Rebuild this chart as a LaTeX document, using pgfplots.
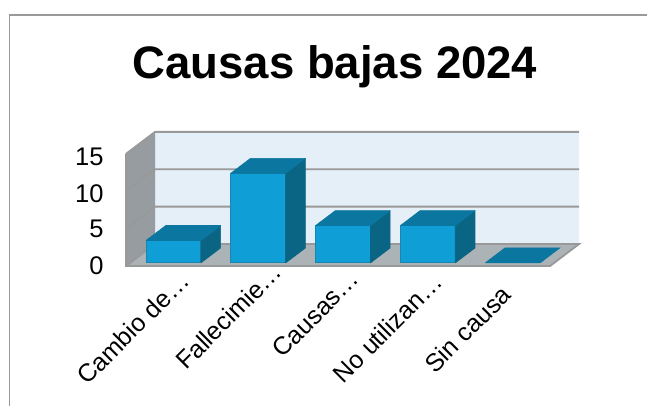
\documentclass[border=0pt]{standalone}
\usepackage{fontspec}
\setmainfont{Liberation Sans}
\usepackage{pgfplots}
\pgfplotsset{compat=1.18}

\definecolor{barfront}{HTML}{0F9ED5}
\definecolor{barline}{HTML}{1A86B0}
\definecolor{bartop}{HTML}{0B76A0}
\definecolor{barside}{HTML}{0A6585}
\definecolor{wallback}{HTML}{E5EFF8}
\definecolor{wallside}{HTML}{969CA0}
\definecolor{floorc}{HTML}{ABB3B6}
\definecolor{gridc}{HTML}{999999}

% x0, x1, value
\newcommand{\cuboid}[3]{%
  \addplot3[fill=barfront,draw=barline,line width=1pt] coordinates {(#1,0.14,0) (#2,0.14,0) (#2,0.14,#3) (#1,0.14,#3) (#1,0.14,0)};
  \addplot3[fill=barside,draw=barside,line width=0.6pt,line join=round] coordinates {(#2,0.14,0) (#2,0.82,0) (#2,0.82,#3) (#2,0.14,#3) (#2,0.14,0)};
  \addplot3[fill=bartop,draw=bartop,line width=0.6pt,line join=round] coordinates {(#1,0.14,#3) (#2,0.14,#3) (#2,0.82,#3) (#1,0.82,#3) (#1,0.14,#3)};
}
% value
\newcommand{\gridz}[1]{%
  \addplot3[draw=gridc,line width=1.9pt] coordinates {(0,0,#1) (0,1,#1) (5,1,#1)};
}

\begin{document}
\begin{tikzpicture}[x=1pt,y=1pt]
\useasboundingbox (0,0) rectangle (647,406);
\draw[gridc,line width=1.5pt] (9.5,0) -- (9.5,391) -- (647,391);
\node[font=\fontsize{45.5}{50}\selectfont\bfseries] at (335,339) {Causas bajas 2024};
\begin{axis}[
    at={(126pt,140pt)},
    anchor=origin,
    x={(84.8pt,0pt)},
    y={(29pt,22pt)},
    z={(0pt,7.47pt)},
    xmin=0, xmax=5,
    ymin=0, ymax=1,
    zmin=0, zmax=15,
    clip=false,
    axis line style={draw=none},
    tick style={draw=none},
    ytick=\empty,
    ztick={0,5,10,15},
    zticklabel pos=left,
    xtick={0.5,1.5,2.5,3.5,4.5},
    xticklabels={Cambio de…,Fallecimie…,Causas…,No utilizan…,Sin causa},
    xticklabel pos=left,
    xticklabel style={
      xshift={{-35.5,-24.5,-22.5,-35.5,-40}[\ticknum]},
      yshift={{-62,-50,-48,-62,-63}[\ticknum]},
      rotate=45,anchor=center,font=\fontsize{25}{28}\selectfont},
    zticklabel style={xshift=-19pt,yshift=3.5pt,font=\fontsize{25.5}{28}\selectfont,/pgf/number format/assume math mode=true},
  ]
  % left wall, back wall, floor
  \addplot3[fill=wallback,draw=none] coordinates {(0,1,0) (5,1,0) (5,1,15) (0,1,15) (0,1,0)};
  \addplot3[fill=wallside,draw=none] coordinates {(0,0,0) (0,1,0) (0,1,15) (0,0,15) (0,0,0)};
  \addplot3[fill=floorc,draw=none] coordinates {(0,0,0) (5,0,0) (5,1,0) (0,1,0) (0,0,0)};
  \gridz{5}
  \gridz{10}
  \gridz{15}
  \addplot3[draw=gridc,line width=1.9pt] coordinates {(0,0,15) (0,0,0) (5,0,0) (5,1,0) (0,1,0) (0,0,0)};
  \addplot3[draw=gridc,line width=1pt] coordinates {(0,0,15) (0,1,15)};
  \cuboid{0.188}{0.835}{3}
  \cuboid{1.188}{1.835}{12}
  \cuboid{2.188}{2.835}{5}
  \cuboid{3.188}{3.835}{5}
  \addplot3[fill=bartop,draw=bartop,line width=0.6pt] coordinates {(4.188,0.14,0) (4.835,0.14,0) (4.835,0.82,0) (4.188,0.82,0) (4.188,0.14,0)};
\end{axis}
\end{tikzpicture}
\end{document}
